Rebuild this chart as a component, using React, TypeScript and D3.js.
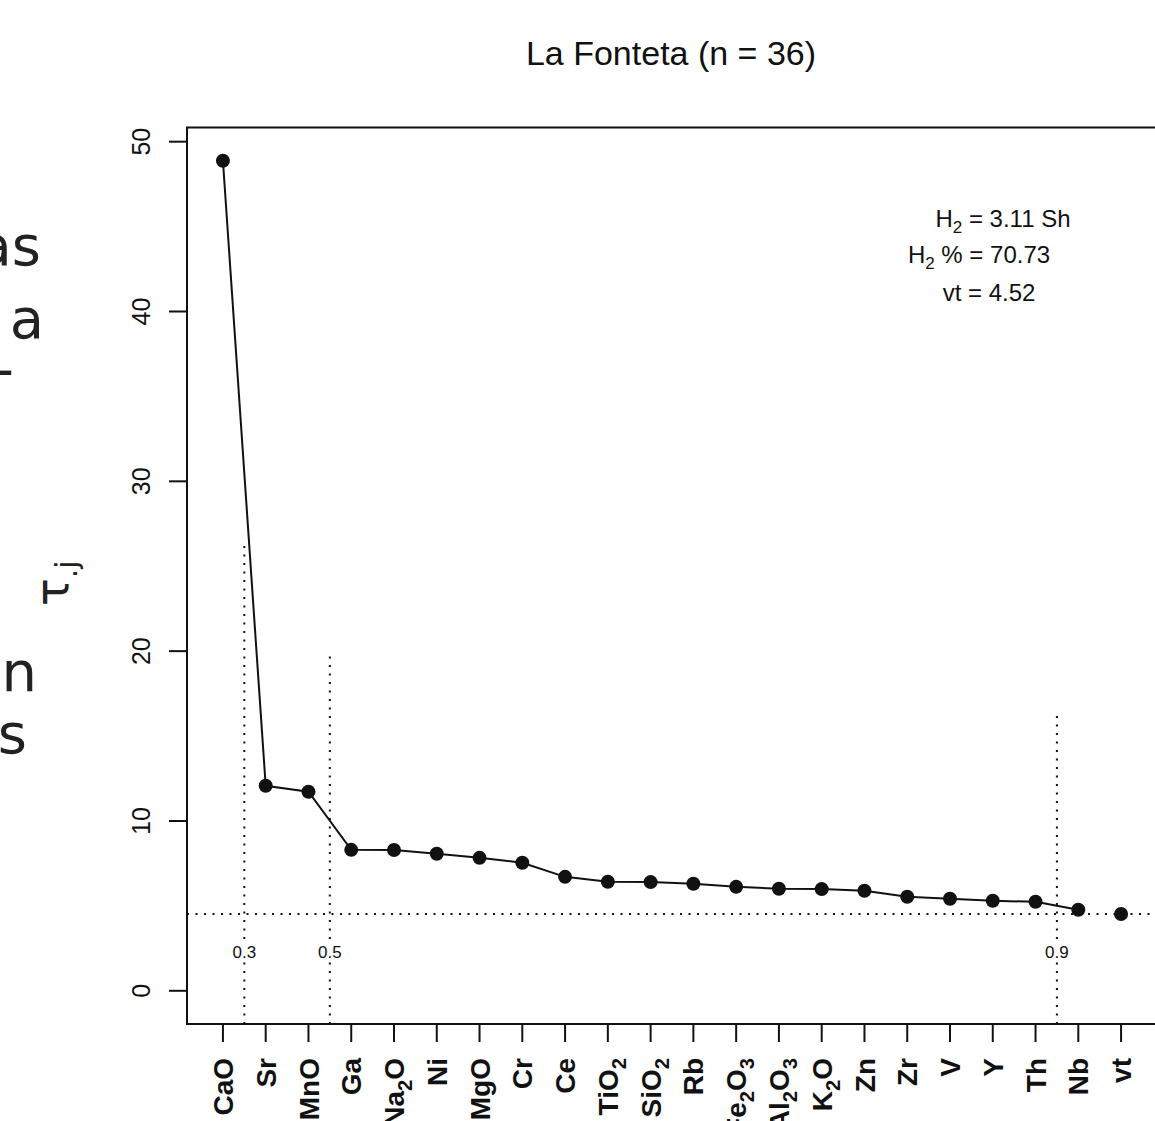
import React from 'react';
import * as d3 from 'd3';

// tau.j per variable, sorted; last one is the threshold vt
const elements = ['CaO', 'Sr', 'MnO', 'Ga', 'Na2O', 'Ni', 'MgO', 'Cr', 'Ce', 'TiO2', 'SiO2', 'Rb', 'Fe2O3', 'Al2O3', 'K2O', 'Zn', 'Zr', 'V', 'Y', 'Th', 'Nb', 'vt'];
const tauValues = [48.88, 12.07, 11.72, 8.3, 8.29, 8.07, 7.83, 7.54, 6.71, 6.42, 6.4, 6.3, 6.12, 6.01, 5.99, 5.89, 5.54, 5.42, 5.3, 5.24, 4.77, 4.52];
const yTicks = [0, 10, 20, 30, 40, 50];

// cumulative proportion cut marks
const cutLabels = ['0.3', '0.5', '0.9'];
const cutPositions = [1.5, 3.5, 20.5];
const cutHeights = [26.3, 20.0, 16.2];
const cutLabelLevel = 2.3;

const vt = 4.52;
const h2 = 3.11;
const h2Pct = 70.73;
const title = 'La Fonteta (n = 36)';

// fragments of the neighbouring slide text, cut off at the left
const sideWords = ['as', 'a', '-', 'n', 'as'];
const sideY = [265, 338, 388, 691, 753];
const sideX = [41, 44, 14, 37, 27];

const W = 1155;
const H = 1121;
const box = { left: 187, top: 127.5, bottom: 1024 };
const font = '"Liberation Sans", Arial, Helvetica, sans-serif';
const sideFont = '"DejaVu Sans", sans-serif';

function subLabel(label: string, fs: number) {
  const parts = label.split(/(\d+)/).filter((p) => p !== '');
  const shift = fs * 0.28;
  let down = false;
  return parts.map((p, i) => {
    const isSub = /^\d+$/.test(p);
    let dy = 0;
    if (isSub && !down) { dy = shift; down = true; }
    else if (!isSub && down) { dy = -shift; down = false; }
    return (
      <tspan key={i} dy={dy} fontSize={isSub ? fs * 0.72 : fs}>{p}</tspan>
    );
  });
}

export default function App() {
  const x = d3.scaleLinear().domain([0.16, 22.84]).range([box.left, 1157]);
  const y = d3.scaleLinear().domain([-1.955, 50.835]).range([box.bottom, box.top]);

  const idx = elements.map((_, i) => i + 1);
  const linePts: [number, number][] = idx.slice(0, -1).map((i) => [x(i), y(tauValues[i - 1])]);
  const line = d3.line();

  const fs = 25;
  const xfs = 28;
  const dotted = '2 6.5';

  return (
    <div style={{ position: 'absolute', left: 0, top: 0 }}>
      <svg width={W} height={H} style={{ display: 'block', background: '#fff' }}>
        {/* left slide fragments */}
        {sideWords.map((w, i) => (
          <text key={i} x={sideX[i]} y={sideY[i]} textAnchor="end" fontFamily={sideFont}
            fontSize={56} fill="#222">{w}</text>
        ))}
        <text transform="translate(68,606) rotate(-90)" fontFamily={sideFont}
          fontSize={46} fill="#222">
          <tspan>τ</tspan>
          <tspan dy={9} fontSize={30}>.j</tspan>
        </text>

        {/* title */}
        <text x={671} y={65} textAnchor="middle" fontFamily={font} fontSize={34} fill="#111">{title}</text>

        {/* box */}
        <path d={`M${W + 10},${box.top}H${box.left}V${box.bottom}H${W + 10}`} fill="none" stroke="#111" strokeWidth={2} />

        {/* y axis */}
        {yTicks.map((t) => (
          <g key={t}>
            <line x1={box.left - 18} x2={box.left} y1={y(t)} y2={y(t)} stroke="#111" strokeWidth={2} />
            <text transform={`translate(150,${y(t)}) rotate(-90)`} textAnchor="middle" fontFamily={font}
              fontSize={fs} fill="#111">{t}</text>
          </g>
        ))}

        {/* x axis */}
        {elements.map((e, i) => (
          <g key={e}>
            <line x1={x(i + 1)} x2={x(i + 1)} y1={box.bottom} y2={box.bottom + 18} stroke="#111" strokeWidth={2} />
            <text transform={`translate(${x(i + 1) + xfs * 0.36},1058) rotate(-90)`} textAnchor="end"
              fontFamily={font} fontWeight="bold" fontSize={xfs} fill="#111">{subLabel(e, xfs)}</text>
          </g>
        ))}

        {/* threshold and cuts */}
        <line x1={box.left} x2={W} y1={y(vt)} y2={y(vt)} stroke="#111" strokeWidth={2} strokeDasharray={dotted} />
        {cutPositions.map((c, i) => (
          <g key={i}>
            <line x1={x(c)} x2={x(c)} y1={box.bottom} y2={y(cutHeights[i])} stroke="#111" strokeWidth={2}
              strokeDasharray={dotted} />
            <rect x={x(c) - 13} y={y(cutLabelLevel) - 10} width={26} height={20} fill="#fff" />
            <text x={x(c)} y={y(cutLabelLevel)} dy="0.35em" textAnchor="middle" fontFamily={font}
              fontSize={17} fill="#111">{cutLabels[i]}</text>
          </g>
        ))}

        {/* series */}
        <path d={line(linePts) || ''} fill="none" stroke="#111" strokeWidth={2} />
        {tauValues.map((v, i) => (
          <circle key={i} cx={x(i + 1)} cy={y(v)} r={7} fill="#111" />
        ))}

        {/* annotations */}
        <text x={1003} y={227} textAnchor="middle" fontFamily={font} fontSize={24} fill="#111">
          H<tspan dy={6} fontSize={17}>2</tspan><tspan dy={-6}>{` = ${h2} Sh`}</tspan>
        </text>
        <text x={979} y={263} textAnchor="middle" fontFamily={font} fontSize={24} fill="#111">
          H<tspan dy={6} fontSize={17}>2</tspan><tspan dy={-6}>{` % = ${h2Pct}`}</tspan>
        </text>
        <text x={989} y={301} textAnchor="middle" fontFamily={font} fontSize={24} fill="#111">
          {`vt = ${vt}`}
        </text>
      </svg>
    </div>
  );
}
